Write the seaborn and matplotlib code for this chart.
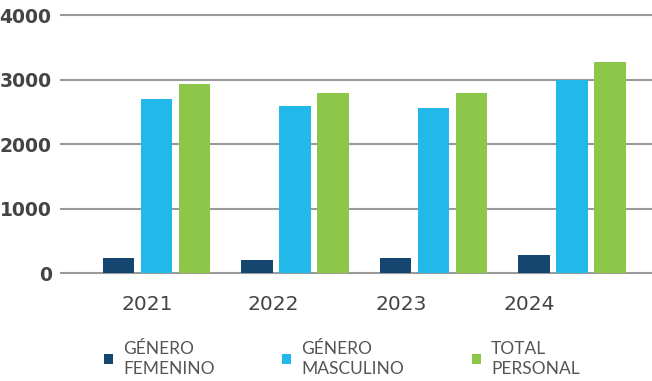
import pandas as pd
import seaborn as sns
import matplotlib.pyplot as plt

years = ["2021", "2022", "2023", "2024"]
series = ["GÉNERO\nFEMENINO", "GÉNERO\nMASCULINO", "TOTAL\nPERSONAL"]
femenino = [237, 209, 240, 288]
masculino = [2692, 2596, 2564, 2990]
total = [2931, 2788, 2788, 3269]
colors = ["#15466F", "#22B8EA", "#8CC74A"]

# long table for seaborn
df = pd.DataFrame({
    "year": years * 3,
    "serie": [s for s in series for _ in years],
    "valor": femenino + masculino + total,
})

sns.set_style("white")
fig = plt.figure(figsize=(6.52, 3.81), dpi=100)
ax = fig.add_axes([60 / 652, 0.2777, 1 - 60 / 652, 0.9657 - 0.2777])

sns.barplot(data=df, x="year", y="valor", hue="serie", hue_order=series,
            palette=colors, width=0.823, gap=0.18, saturation=1,
            linewidth=0, ax=ax, legend=True)

ax.set_ylim(-30, 4030)
ax.set_xlim(-0.697, 3.578)
ax.set_yticks([0, 1000, 2000, 3000, 4000])
ax.set_yticklabels(["0", "1000", "2000", "3000", "4000"],
                   fontsize=13.5, fontweight="bold", color="#444444")
for y in [0, 1000, 2000, 3000, 4000]:
    ax.axhline(y, color="#9a9a9a", lw=1.5, zorder=0)

# year labels sit a bit left of the group centres in the original
ax.set_xticks([-0.07, 0.84, 1.77, 2.69])
ax.set_xticklabels(years, fontsize=14.5, color="#444444")
ax.tick_params(axis="both", length=0, pad=6)
ax.tick_params(axis="x", pad=14)
ax.set_xlabel("")
ax.set_ylabel("")
sns.despine(ax=ax, left=True, bottom=True, top=True, right=True)

h, l = ax.get_legend_handles_labels()
ax.legend_.remove()
leg = fig.legend(h, l, loc="upper left", bbox_to_anchor=(104 / 652, 1 - 341 / 381),
                 ncol=3, frameon=False, handlelength=0.5, handleheight=0.5,
                 handletextpad=0.6, columnspacing=3.9, borderaxespad=0,
                 borderpad=0, labelspacing=0,
                 prop={"family": "Lato", "size": 12.5},
                 labelcolor="#555555")
for t in leg.get_texts():
    t.set_linespacing(1.3)

fig.savefig("out.png", dpi=100)
